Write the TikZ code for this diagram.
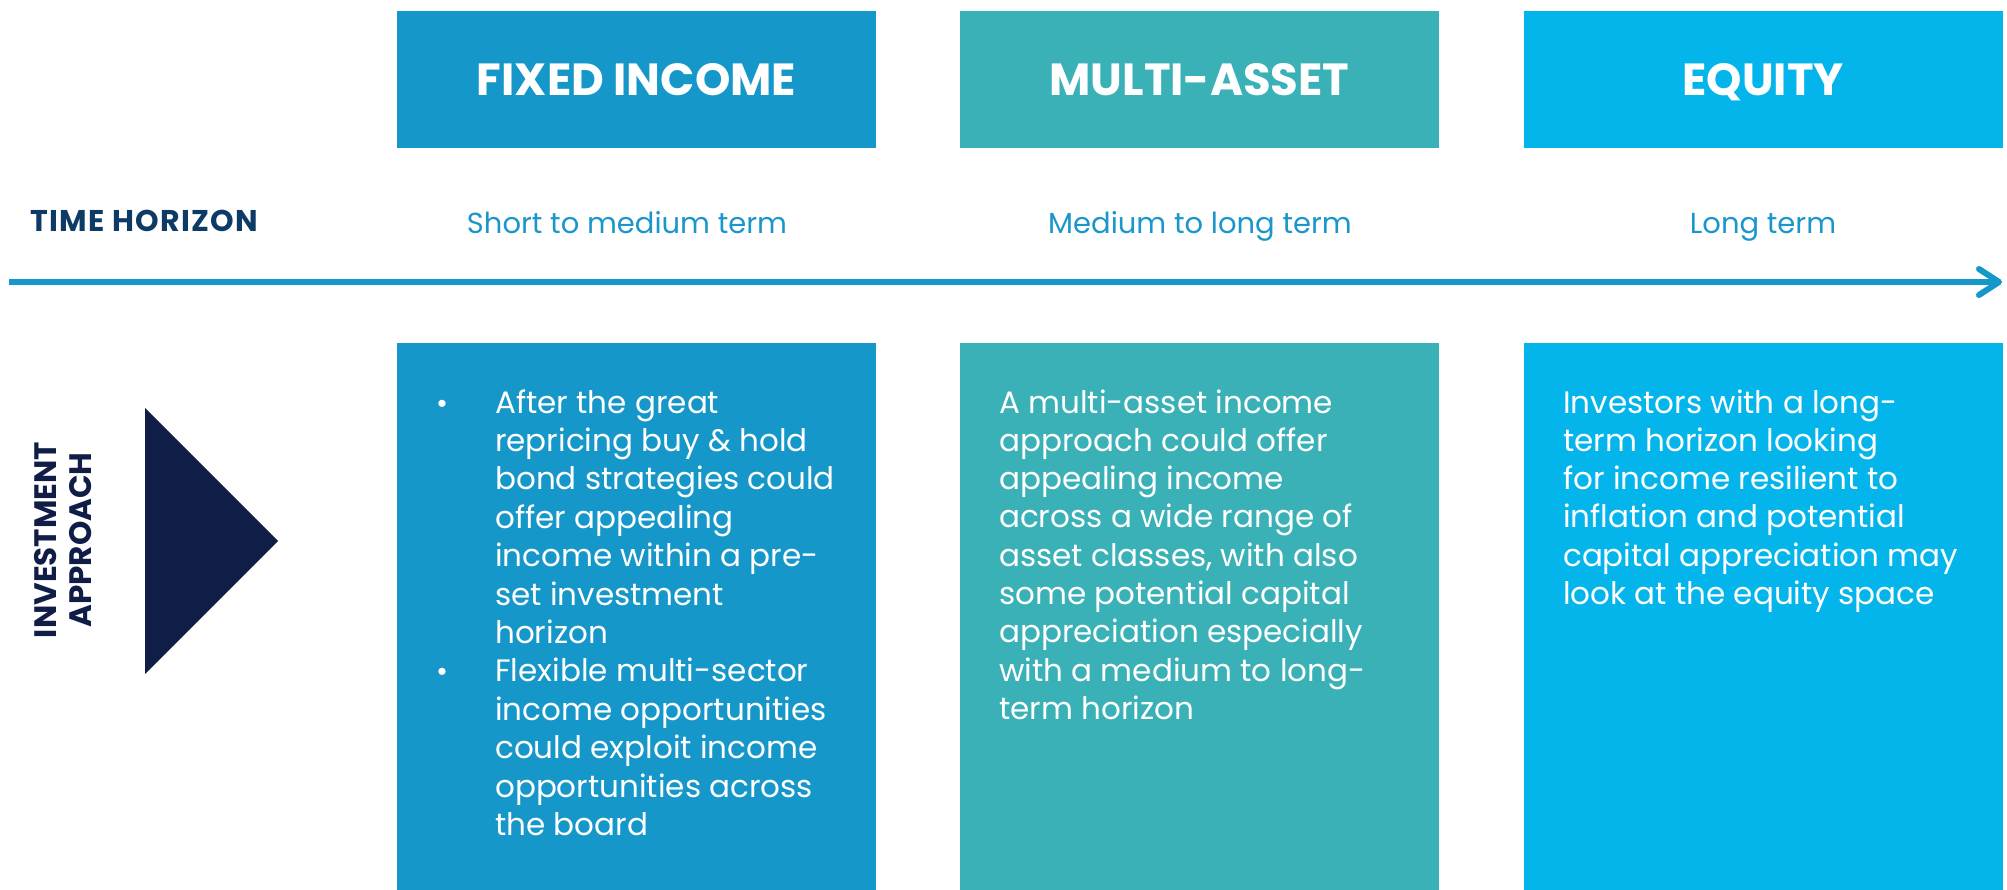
\documentclass[tikz,border=0pt]{standalone}
\usepackage{fontspec}
\setmainfont{Poppins}
\usetikzlibrary{arrows.meta}
\definecolor{fi}{HTML}{1697C9}
\definecolor{ma}{HTML}{3AB1B7}
\definecolor{eq}{HTML}{04B5EC}
\definecolor{lbl}{HTML}{1A96CB}
\definecolor{th}{HTML}{0D3B66}
\definecolor{navy}{HTML}{0F1D47}
\tikzset{
  hdr/.style={inner sep=0pt, minimum width=479pt, minimum height=137pt, text=white,
    text height=32pt, text depth=0pt, font=\fontsize{45}{50}\selectfont\bfseries},
  bodybox/.style={inner sep=0pt, minimum width=479pt, minimum height=547pt},
  bodytxt/.style={inner sep=0pt, anchor=base west, align=left, text=white},
  term/.style={inner sep=0pt, anchor=base, text=lbl, font=\fontsize{29}{34}\selectfont},
  bul/.style={inner sep=0pt, anchor=base west, text=white, font=\fontsize{29}{36}\selectfont}
}
\begin{document}
\begin{tikzpicture}[x=1pt,y=-1pt]
\useasboundingbox (0,0) rectangle (2007,890);
% headers
\node[hdr, fill=fi] (fih) at (636.5,79.5) {FIXED INCOME};
\node[hdr, fill=ma] (mah) at (1199.5,79.5) {MULTI-ASSET};
\node[hdr, fill=eq] (eqh) at (1763,79.5) {EQUITY};
% time horizon row
\node[inner sep=0pt, anchor=base west, text=th, font=\fontsize{30}{34}\selectfont\bfseries\addfontfeatures{LetterSpace=4.5}] (thl) at (30,232) {TIME HORIZON};
\node[term] (t1) at (627,234) {Short to medium term};
\node[term] (t2) at (1200,234) {Medium to long term};
\node[term] (t3) at (1763,234) {Long term};
% axis arrow
\coordinate (as) at (9,282);
\coordinate (ae) at (2002,282);
\draw[fi, line width=6pt, -{Straight Barb[round,length=20pt,width=26pt]}] (as) -- (ae);
% body boxes
\node[bodybox, fill=fi] (fib) at (636.5,616.5) {};
\node[bodybox, fill=ma] (mab) at (1199.5,616.5) {};
\node[bodybox, fill=eq] (eqb) at (1763,616.5) {};
% investment approach
\fill[navy] (145,408) -- (278,541) -- (145,674) -- cycle;
\node[rotate=90, inner sep=0pt, align=center, text=navy, font=\fontsize{31}{35}\selectfont\bfseries] (ia) at (63,540) {INVESTMENT\\APPROACH};
% texts (anchored at the baseline of their last line)
\node[bul] (b1) at (436,413) {\textbullet};
\node[bul] (b2) at (436,681.8) {\textbullet};
\node[bodytxt, font=\fontsize{31}{38.4}\selectfont] (fit) at (495,835.4) {After the great\\repricing buy \& hold\\bond strategies could\\offer appealing\\income within a pre-\\set investment\\horizon\\Flexible multi-sector\\income opportunities\\could exploit income\\opportunities across\\the board};
\node[bodytxt, font=\fontsize{31}{38.3}\selectfont] (mat) at (999,719.4) {A multi-asset income\\approach could offer\\appealing income\\across a wide range of\\asset classes, with also\\some potential capital\\appreciation especially\\with a medium to long-\\term horizon};
\node[bodytxt, font=\fontsize{31}{38.3}\selectfont] (eqt) at (1563,604.5) {Investors with a long-\\term horizon looking\\for income resilient to\\inflation and potential\\capital appreciation may\\look at the equity space};
\end{tikzpicture}
\end{document}
